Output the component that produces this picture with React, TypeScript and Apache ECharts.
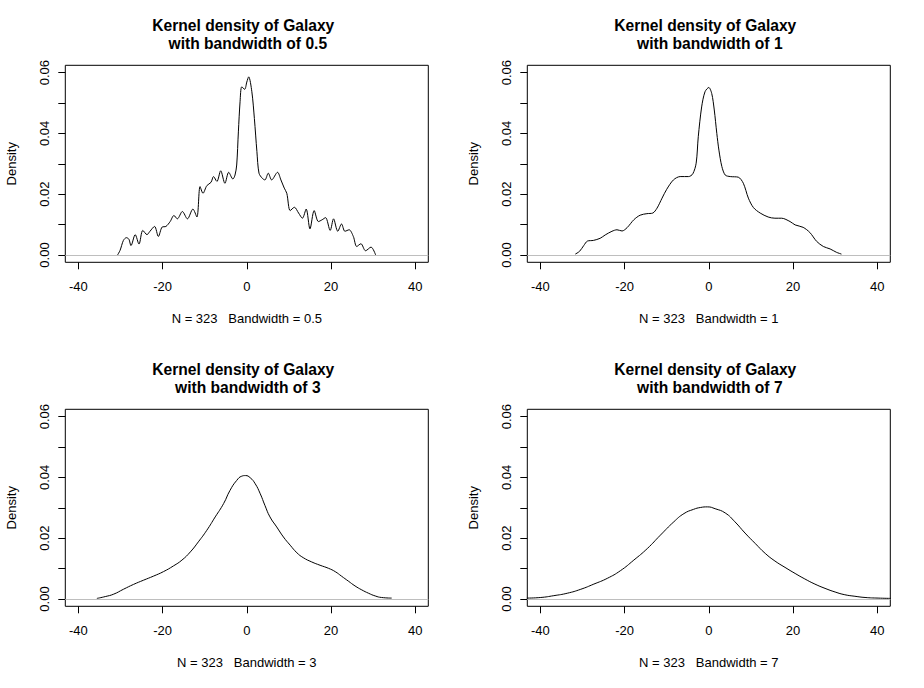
import React, { useEffect, useRef } from "react";
import * as echarts from "echarts";

const sampleSize = 323;
const bandwidths = [0.5, 1, 3, 7];
const xTicks = [-40, -20, 0, 20, 40];
const yTicks = [0, 0.01, 0.02, 0.03, 0.04, 0.05, 0.06];
const yLabelTicks = [0, 0.02, 0.04, 0.06];

const density05: [number, number][] = [
  [-30.7, 0.0], [-30.1, 0.0015], [-29.3, 0.0048], [-28.6, 0.0057], [-28.0, 0.0052],
  [-27.5, 0.0031], [-26.5, 0.0067], [-25.6, 0.0036], [-24.7, 0.0081], [-23.7, 0.0067],
  [-23.0, 0.0078], [-21.9, 0.0094], [-21.0, 0.0061], [-20.1, 0.0092], [-19.2, 0.0094],
  [-18.2, 0.011], [-17.3, 0.013], [-16.5, 0.0119], [-15.3, 0.0143], [-14.1, 0.0119],
  [-12.8, 0.0151], [-11.85, 0.0125], [-11.1, 0.0225], [-10.4, 0.0203], [-9.5, 0.0228],
  [-8.5, 0.0239], [-7.9, 0.0258], [-7.1, 0.0242], [-6.2, 0.0277], [-5.2, 0.0236],
  [-4.3, 0.0272], [-3.3, 0.025], [-2.8, 0.0263], [-2.4, 0.0296], [-2.0, 0.0405],
  [-1.6, 0.0504], [-1.2, 0.0553], [-0.5, 0.0545], [0.0, 0.0569], [0.45, 0.0586],
  [1.2, 0.0537], [1.8, 0.0449], [2.4, 0.034], [2.9, 0.0269], [3.7, 0.0252],
  [4.3, 0.0247], [5.1, 0.0269], [5.9, 0.0247], [7.3, 0.0272], [8.1, 0.0247],
  [8.9, 0.022], [9.5, 0.0203], [10.3, 0.0146], [11.3, 0.0157], [12.3, 0.0138],
  [13.2, 0.0121], [14.1, 0.0151], [15.0, 0.0086], [16.0, 0.0146], [17.0, 0.011],
  [17.9, 0.0116], [18.7, 0.0123], [19.8, 0.0081], [20.6, 0.0119], [21.6, 0.0078],
  [22.5, 0.0102], [23.3, 0.0078], [24.3, 0.0083], [25.3, 0.0061], [26.1, 0.0028],
  [27.1, 0.0037], [28.2, 0.0014], [29.5, 0.0026], [30.6, 0.0],
];

const density1: [number, number][] = [
  [-31.7, 0.0003], [-30.7, 0.0012], [-29.7, 0.0031], [-28.8, 0.0046], [-27.4, 0.0048],
  [-25.8, 0.0055], [-24.6, 0.0066], [-23.0, 0.0078], [-21.8, 0.0083], [-20.6, 0.0079],
  [-19.4, 0.009], [-17.8, 0.0116], [-16.3, 0.0131], [-14.7, 0.0136], [-13.3, 0.0138],
  [-12.3, 0.0154], [-11.1, 0.0187], [-10.0, 0.0216], [-8.4, 0.0247], [-6.8, 0.0258],
  [-4.8, 0.0258], [-3.8, 0.0267], [-3.0, 0.0302], [-2.5, 0.0389], [-1.7, 0.0487],
  [-0.9, 0.0537], [0.0, 0.0551], [0.7, 0.0531], [1.3, 0.0477], [1.9, 0.04],
  [2.4, 0.0345], [3.1, 0.0291], [3.9, 0.0263], [5.1, 0.0258], [7.0, 0.0256],
  [8.2, 0.0236], [9.4, 0.0187], [10.6, 0.0156], [12.2, 0.0138], [14.1, 0.0125],
  [15.7, 0.0121], [17.3, 0.0121], [19.3, 0.011], [20.5, 0.0099], [22.4, 0.0091],
  [24.0, 0.0074], [25.6, 0.0045], [27.2, 0.0028], [28.8, 0.002], [30.3, 0.0009],
  [31.5, 0.0003],
];

const density3: [number, number][] = [
  [-35.6, 0.0002], [-33.6, 0.0008], [-31.6, 0.0016], [-29.3, 0.0032], [-26.9, 0.0048],
  [-24.5, 0.0062], [-22.2, 0.0075], [-19.8, 0.009], [-17.4, 0.0109], [-15.4, 0.0128],
  [-13.4, 0.0155], [-11.5, 0.0188], [-9.5, 0.0226], [-7.5, 0.027], [-5.5, 0.0314],
  [-4.0, 0.0357], [-2.4, 0.039], [-1.2, 0.0404], [-0.3, 0.0406], [0.8, 0.0399],
  [2.0, 0.0379], [3.2, 0.0346], [4.3, 0.0308], [5.5, 0.027], [7.1, 0.0237],
  [8.7, 0.0204], [10.3, 0.0177], [11.9, 0.0152], [13.4, 0.0136], [15.4, 0.0122],
  [17.4, 0.0111], [19.4, 0.0101], [21.0, 0.009], [22.5, 0.0075], [24.1, 0.0059],
  [25.7, 0.0043], [27.3, 0.003], [28.9, 0.0019], [30.5, 0.001], [32.0, 0.0005],
  [34.4, 0.0003],
];

const density7: [number, number][] = [
  [-43.2, 0.0003], [-39.9, 0.0005], [-36.8, 0.0011], [-33.6, 0.0019], [-30.4, 0.0032],
  [-27.3, 0.0049], [-24.1, 0.0068], [-21.0, 0.0093], [-17.8, 0.0128], [-14.6, 0.0166],
  [-11.5, 0.021], [-8.3, 0.0254], [-5.9, 0.0281], [-3.6, 0.0295], [-2.0, 0.0301],
  [-0.3, 0.0303], [1.5, 0.0297], [3.9, 0.0283], [6.2, 0.0254], [8.6, 0.0217],
  [11.0, 0.0183], [13.4, 0.015], [15.7, 0.0125], [18.1, 0.0104], [20.5, 0.0084],
  [22.8, 0.0066], [25.2, 0.0049], [27.6, 0.0035], [30.0, 0.0023], [32.3, 0.0014],
  [34.7, 0.0009], [37.1, 0.0005], [40.2, 0.0003], [43.2, 0.0002],
];

const curves = [density05, density1, density3, density7];

const FONT = '"Liberation Sans", Arial, Helvetica, sans-serif';
const PANEL_LEFT = [65.3, 527.3, 65.3, 527.3];
const PANEL_TOP = [65.3, 65.3, 409.3, 409.3];
const PANEL_W = 363;
const PANEL_H = 197;

function buildOption() {
  const grid = PANEL_LEFT.map((l, i) => ({
    left: l,
    top: PANEL_TOP[i],
    width: PANEL_W,
    height: PANEL_H,
    show: true,
    borderColor: "#000",
    borderWidth: 1,
    backgroundColor: "transparent",
    containLabel: false,
    outerBoundsMode: "none",
  }));

  const xAxis = bandwidths.map((bw, i) => ({
    type: "value",
    gridIndex: i,
    position: "bottom",
    min: -43.1,
    max: 43.1,
    splitLine: { show: false },
    axisLine: { show: false, onZero: false },
    axisTick: {
      show: true,
      length: 7,
      customValues: xTicks,
      lineStyle: { color: "#000", width: 1 },
    },
    axisLabel: {
      customValues: xTicks,
      margin: 18,
      color: "#000",
      fontSize: 13,
      fontFamily: FONT,
    },
    name: `N = ${sampleSize}\u00a0\u00a0\u00a0Bandwidth = ${bw}`,
    nameLocation: "middle",
    nameGap: 50,
    nameTextStyle: { color: "#000", fontSize: 13, fontFamily: FONT },
  }));

  const yAxis = bandwidths.map((_, i) => ({
    type: "value",
    gridIndex: i,
    position: "left",
    min: -0.0024,
    max: 0.0624,
    splitLine: { show: false },
    axisLine: { show: false, onZero: false },
    axisTick: {
      show: true,
      length: 7,
      customValues: yTicks,
      lineStyle: { color: "#000", width: 1 },
    },
    axisLabel: {
      customValues: yLabelTicks,
      rotate: 90,
      margin: 14,
      color: "#000",
      fontSize: 13,
      fontFamily: FONT,
      formatter: (v: number) => v.toFixed(2),
    },
    name: "Density",
    nameLocation: "middle",
    nameRotate: 90,
    nameGap: 47,
    nameTextStyle: { color: "#000", fontSize: 13, fontFamily: FONT },
  }));

  const series = curves.map((data, i) => ({
    type: "line",
    xAxisIndex: i,
    yAxisIndex: i,
    data,
    showSymbol: false,
    symbol: "none",
    smooth: i < 2 ? 0.3 : 0.5,
    clip: true,
    lineStyle: { color: "#000", width: 1 },
    markLine: {
      silent: true,
      symbol: ["none", "none"],
      label: { show: false },
      lineStyle: { color: "#BEBEBE", type: "solid", width: 1 },
      data: [{ yAxis: 0 }],
    },
  }));

  const graphic: any[] = [];
  bandwidths.forEach((bw, i) => {
    const cx = PANEL_LEFT[i] + PANEL_W / 2;
    graphic.push({
      type: "text",
      x: cx - 3.5,
      y: PANEL_TOP[i] - 40.3,
      style: {
        text: "Kernel density of Galaxy",
        align: "center",
        verticalAlign: "middle",
        font: `bold 15.6px ${FONT}`,
        fill: "#000",
      },
    });
    graphic.push({
      type: "text",
      x: cx + 1,
      y: PANEL_TOP[i] - 21.8,
      style: {
        text: `with bandwidth of ${bw}`,
        align: "center",
        verticalAlign: "middle",
        font: `bold 15.6px ${FONT}`,
        fill: "#000",
      },
    });
  });

  return {
    animation: false,
    backgroundColor: "#fff",
    textStyle: { fontFamily: FONT },
    grid,
    xAxis,
    yAxis,
    series,
    graphic,
  };
}

export default function App() {
  const ref = useRef<HTMLDivElement>(null);
  useEffect(() => {
    if (!ref.current) return;
    const chart = echarts.init(ref.current, undefined, { renderer: "svg" });
    chart.setOption(buildOption() as any);
    return () => chart.dispose();
  }, []);
  return (
    <div
      ref={ref}
      style={{ position: "fixed", left: 0, top: 0, width: 924, height: 688, background: "#fff" }}
    />
  );
}
